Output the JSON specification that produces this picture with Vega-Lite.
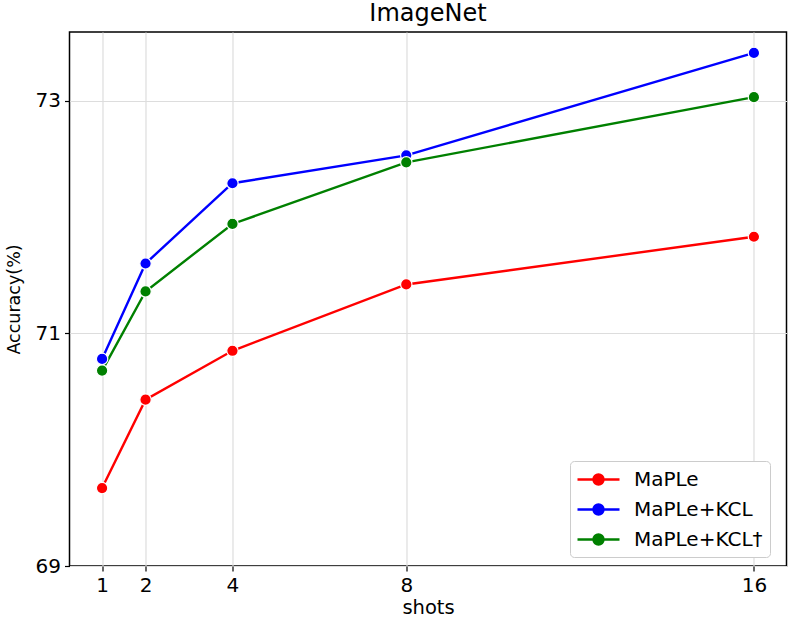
{
  "$schema": "https://vega.github.io/schema/vega-lite/v6.json",
  "width": 717,
  "height": 534,
  "autosize": {"type": "none"},
  "padding": {"left": 69.5, "top": 32, "right": 3.5, "bottom": 61},
  "background": "white",
  "title": {"text": "ImageNet", "fontSize": 24, "font": "DejaVu Sans", "fontWeight": "normal", "color": "black", "offset": 6},
  "config": {
    "font": "DejaVu Sans",
    "view": {"stroke": "black", "strokeWidth": 1.5},
    "axis": {
      "labelFont": "DejaVu Sans", "labelFontSize": 20, "labelColor": "black",
      "titleFont": "DejaVu Sans", "titleFontSize": 19.5, "titleFontWeight": "normal", "titleColor": "black",
      "tickColor": "black", "tickSize": 5, "tickWidth": 1.2, "domain": false,
      "gridColor": "#dddddd", "gridWidth": 1.2, "labelPadding": 4
    }
  },
  "data": {"values": [
    {"shots": 1, "acc": 69.67, "method": "MaPLe"},
    {"shots": 2, "acc": 70.43, "method": "MaPLe"},
    {"shots": 4, "acc": 70.85, "method": "MaPLe"},
    {"shots": 8, "acc": 71.42, "method": "MaPLe"},
    {"shots": 16, "acc": 71.83, "method": "MaPLe"},
    {"shots": 1, "acc": 70.78, "method": "MaPLe+KCL"},
    {"shots": 2, "acc": 71.60, "method": "MaPLe+KCL"},
    {"shots": 4, "acc": 72.29, "method": "MaPLe+KCL"},
    {"shots": 8, "acc": 72.53, "method": "MaPLe+KCL"},
    {"shots": 16, "acc": 73.41, "method": "MaPLe+KCL"},
    {"shots": 1, "acc": 70.68, "method": "MaPLe+KCL†"},
    {"shots": 2, "acc": 71.36, "method": "MaPLe+KCL†"},
    {"shots": 4, "acc": 71.94, "method": "MaPLe+KCL†"},
    {"shots": 8, "acc": 72.47, "method": "MaPLe+KCL†"},
    {"shots": 16, "acc": 73.03, "method": "MaPLe+KCL†"}
  ]},
  "encoding": {
    "x": {"field": "shots", "type": "quantitative", "scale": {"domain": [0.25, 16.75], "nice": false, "zero": false},
          "axis": {"values": [1, 2, 4, 8, 16], "title": "shots", "titlePadding": 3, "labelFlush": false}},
    "y": {"field": "acc", "type": "quantitative", "scale": {"domain": [69, 73.59], "nice": false, "zero": false},
          "axis": {"values": [69, 71, 73], "title": "Accuracy(%)", "titleFontSize": 17.5, "titlePadding": 12}},
    "color": {"field": "method", "type": "nominal",
      "scale": {"domain": ["MaPLe", "MaPLe+KCL", "MaPLe+KCL†"], "range": ["#ff0000", "#0000ff", "#008000"]},
      "legend": {
        "title": null, "orient": "none", "legendX": 500.5, "legendY": 429,
        "labelFontSize": 20, "labelFont": "DejaVu Sans", "labelColor": "black",
        "symbolType": "M-2.1,0H-0.5M0.5,0H2.1M0.5,0A0.5,0.5,0,1,1,-0.5,0A0.5,0.5,0,1,1,0.5,0Z",
        "symbolSize": 400, "symbolStrokeWidth": 2.4, "symbolOffset": 10, "rowPadding": 8, "labelOffset": 24,
        "padding": 7, "strokeColor": "#cccccc", "fillColor": "white", "cornerRadius": 4,
        "symbolOpacity": 1
      }
    }
  },
  "layer": [
    {"mark": {"type": "line", "strokeWidth": 2.4}},
    {"mark": {"type": "point", "filled": true, "size": 130, "opacity": 1, "stroke": "white", "strokeWidth": 1.2}}
  ]
}
